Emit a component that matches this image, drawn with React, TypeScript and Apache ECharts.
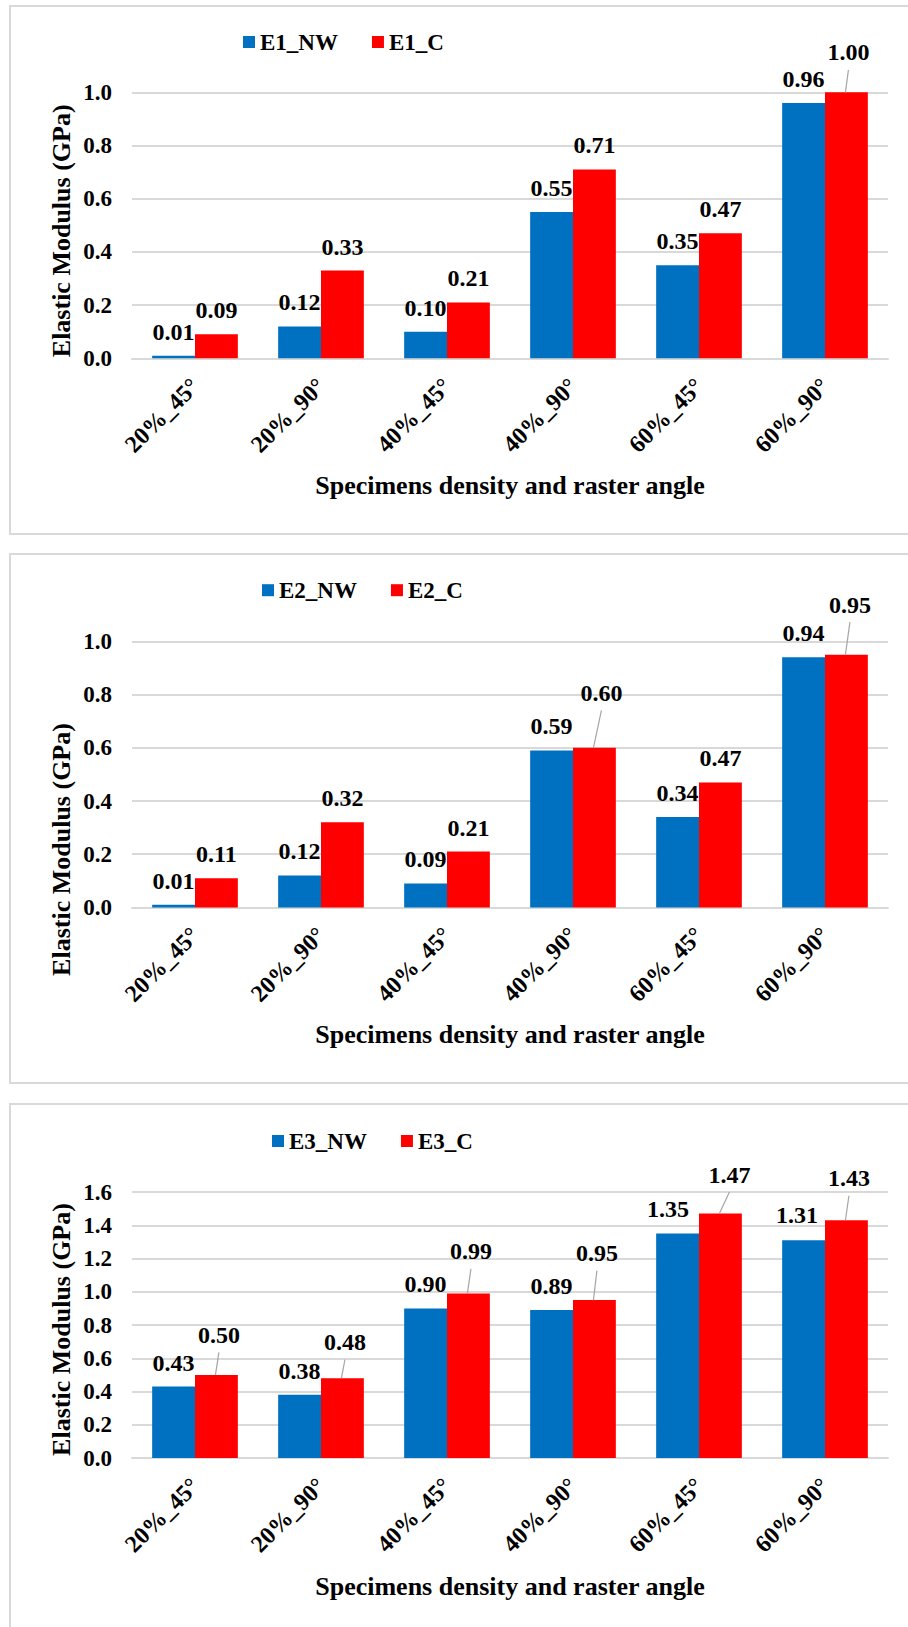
import React, { useEffect, useRef } from "react";
import * as echarts from "echarts";

const categories = ["20%_45°", "20%_90°", "40%_45°", "40%_90°", "60%_45°", "60%_90°"];

const e1NW = [0.01, 0.12, 0.1, 0.55, 0.35, 0.96];
const e1C = [0.09, 0.33, 0.21, 0.71, 0.47, 1.0];
const e2NW = [0.01, 0.12, 0.09, 0.59, 0.34, 0.94];
const e2C = [0.11, 0.32, 0.21, 0.6, 0.47, 0.95];
const e3NW = [0.43, 0.38, 0.9, 0.89, 1.35, 1.31];
const e3C = [0.5, 0.48, 0.99, 0.95, 1.47, 1.43];

const legend1 = ["E1_NW", "E1_C"];
const legend2 = ["E2_NW", "E2_C"];
const legend3 = ["E3_NW", "E3_C"];

const yMax1 = 1.0;
const yMax2 = 1.0;
const yMax3 = 1.6;

const yTitle = "Elastic Modulus (GPa)";
const xTitle = "Specimens density and raster angle";

// label layout adjustments: key "seriesIndex-dataIndex" -> [dx, dy, leaderLine]
type Shift = [number, number, boolean];
const shifts1: Record<string, Shift> = { "1-5": [2, -16, true] };
const shifts2: Record<string, Shift> = { "1-5": [3.5, -26, true], "1-3": [7, -31, true] };
const shifts3: Record<string, Shift> = {
  "1-0": [2.5, -16, true],
  "1-1": [2.5, -12, true],
  "1-2": [2.5, -18, true],
  "1-3": [2.5, -23, true],
  "1-4": [9, -15, true],
  "1-5": [2.5, -18, true],
  "0-4": [-9.5, -1, false],
  "0-5": [-6.5, -1, false],
};

const FONT = '"Times New Roman", "Liberation Serif", serif';
const BLUE = "#0070C0";
const RED = "#FF0000";
const GRID = "#d9d9d9";
const LEADER = "#a5a5a5";

interface PanelCfg {
  names: string[];
  nw: number[];
  c: number[];
  yMax: number;
  top: number;
  height: number;
  borderHeight: number;
  legendLeft: number;
  legendTop: number;
  gridTop: number;
  yTitleY: number;
  xTitleY: number;
  shifts: Record<string, Shift>;
}

const panels: PanelCfg[] = [
  { names: legend1, nw: e1NW, c: e1C, yMax: yMax1, top: 5, height: 530, borderHeight: 530, legendLeft: 243, legendTop: 25.5, gridTop: 87.3, yTitleY: 225.8, xTitleY: 480, shifts: shifts1 },
  { names: legend2, nw: e2NW, c: e2C, yMax: yMax2, top: 553, height: 531, borderHeight: 531, legendLeft: 262, legendTop: 25.7, gridTop: 88.4, yTitleY: 296.5, xTitleY: 481, shifts: shifts2 },
  { names: legend3, nw: e3NW, c: e3C, yMax: yMax3, top: 1103, height: 524, borderHeight: 700, legendLeft: 272, legendTop: 26.5, gridTop: 89, yTitleY: 226.5, xTitleY: 483, shifts: shifts3 },
];

// leader line items: [categoryIndex, value, seriesSide(-1 blue / +1 red), dx, dy]
function leaderItems(cfg: PanelCfg) {
  const out: number[][] = [];
  [cfg.nw, cfg.c].forEach((vals, s) => {
    vals.forEach((v, i) => {
      const sh = cfg.shifts[`${s}-${i}`];
      if (sh && sh[2]) out.push([i, v, s === 0 ? -1 : 1, sh[0], sh[1]]);
    });
  });
  return out;
}

function buildOption(cfg: PanelCfg): any {
  const labelCommon = {
    show: true,
    position: "top",
    distance: 12,
    fontFamily: FONT,
    fontWeight: "bold",
    fontSize: 24,
    color: "#000",
    formatter: (p: any) => Number(p.value).toFixed(2),
  };
  const layout = (params: any) => {
    const s = cfg.shifts[`${params.seriesIndex}-${params.dataIndex}`];
    if (s) return { dx: s[0], dy: s[1] };
    return {};
  };
  return {
    animation: false,
    legend: {
      data: cfg.names,
      left: cfg.legendLeft,
      top: cfg.legendTop,
      padding: 0,
      itemWidth: 12,
      itemHeight: 12,
      itemGap: 34,
      icon: "rect",
      textStyle: { fontFamily: FONT, fontWeight: "bold", fontSize: 23, color: "#000" },
    },
    grid: { left: 132, width: 756, top: cfg.gridTop, height: 266, containLabel: false },
    xAxis: {
      type: "category",
      data: categories,
      axisLine: { show: true, lineStyle: { color: GRID, width: 2 } },
      axisTick: { show: false },
      axisLabel: {
        interval: 0,
        rotate: 45,
        margin: 24,
        fontFamily: FONT,
        fontWeight: "bold",
        fontSize: 24,
        color: "#000",
      },
    },
    yAxis: {
      type: "value",
      min: 0,
      max: cfg.yMax,
      interval: 0.2,
      axisLine: { show: false },
      axisTick: { show: false },
      splitLine: { show: true, lineStyle: { color: GRID, width: 2 } },
      axisLabel: {
        margin: 20,
        fontFamily: FONT,
        fontWeight: "bold",
        fontSize: 23,
        color: "#000",
        formatter: (v: number) => v.toFixed(1),
      },
    },
    series: [
      {
        name: cfg.names[0],
        type: "bar",
        data: cfg.nw,
        barWidth: "34%",
        barGap: "0%",
        itemStyle: { color: BLUE },
        label: labelCommon,
        labelLayout: layout,
      },
      {
        name: cfg.names[1],
        type: "bar",
        data: cfg.c,
        barWidth: "34%",
        barGap: "0%",
        itemStyle: { color: RED },
        label: labelCommon,
        labelLayout: layout,
      },
      {
        type: "custom",
        silent: true,
        z: 5,
        data: leaderItems(cfg),
        encode: { x: 0, y: 1 },
        renderItem: (params: any, api: any) => {
          const pt = api.coord([api.value(0), api.value(1)]);
          const band = api.size([1, 0])[0];
          const side = api.value(2);
          const dx = api.value(3);
          const dy = api.value(4);
          const bx = pt[0] + side * band * 0.17;
          return {
            type: "line",
            shape: { x1: bx - 1, y1: pt[1], x2: bx + dx, y2: pt[1] - 6.5 + dy },
            style: { stroke: LEADER, lineWidth: 1.2 },
          };
        },
      },
    ],
    graphic: [
      {
        type: "text",
        x: 61,
        y: cfg.yTitleY,
        rotation: Math.PI / 2,
        style: {
          text: yTitle,
          fontFamily: FONT,
          fontWeight: "bold",
          fontSize: 26,
          fill: "#000",
          align: "center",
          verticalAlign: "middle",
          textAlign: "center",
          textVerticalAlign: "middle",
        },
      },
      {
        type: "text",
        x: 510,
        y: cfg.xTitleY,
        style: {
          text: xTitle,
          fontFamily: FONT,
          fontWeight: "bold",
          fontSize: 26,
          fill: "#000",
          align: "center",
          verticalAlign: "middle",
          textAlign: "center",
          textVerticalAlign: "middle",
        },
      },
    ],
  };
}

function Panel({ cfg }: { cfg: PanelCfg }) {
  const ref = useRef<HTMLDivElement>(null);
  useEffect(() => {
    if (!ref.current) return;
    const chart = echarts.init(ref.current, null, { renderer: "svg" });
    chart.setOption(buildOption(cfg));
    return () => chart.dispose();
  }, [cfg]);
  return (
    <div style={{ position: "absolute", left: 0, top: cfg.top, width: 908, height: cfg.borderHeight, overflow: "hidden" }}>
      <div
        style={{
          position: "absolute",
          left: 9,
          top: 0,
          width: 1000,
          height: cfg.borderHeight,
          border: `2px solid ${GRID}`,
          boxSizing: "border-box",
        }}
      />
      <div ref={ref} style={{ position: "absolute", left: 0, top: 0, width: 908, height: cfg.height }} />
    </div>
  );
}

export default function App() {
  return (
    <div style={{ position: "absolute", left: 0, top: 0, width: 908, height: 1627, overflow: "hidden", background: "#fff" }}>
      {panels.map((p, i) => (
        <Panel key={i} cfg={p} />
      ))}
    </div>
  );
}
